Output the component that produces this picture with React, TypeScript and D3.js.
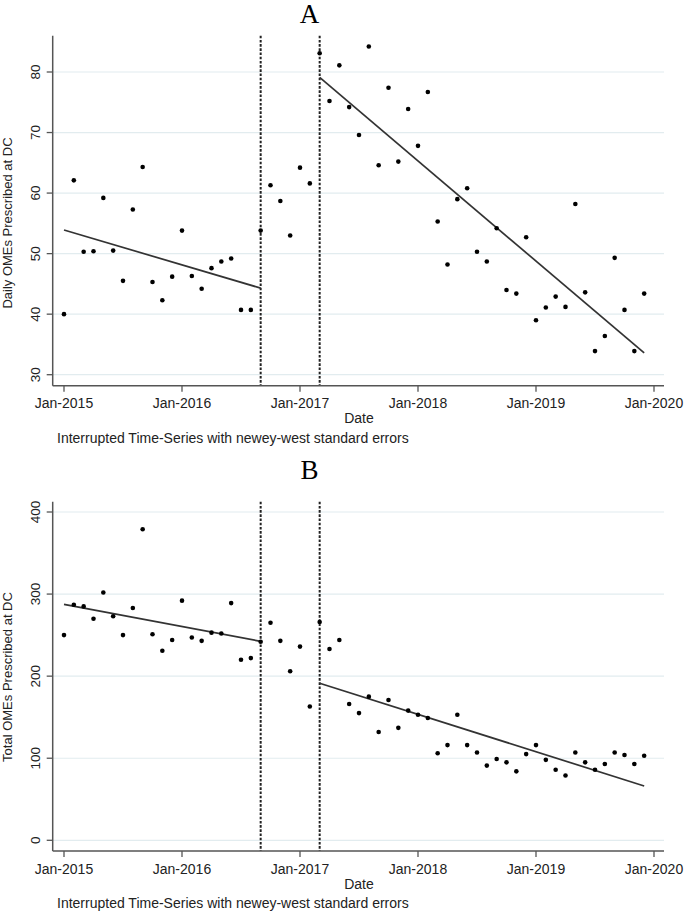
import React from "react";
import * as d3 from "d3";

// Month index 0 = Jan-2015
const monthsA = d3.range(0, 60);
const valuesA = [
  40.0, 62.1, 50.3, 50.4, 59.2, 50.5, 45.5, 57.3, 64.3, 45.3,
  42.3, 46.2, 53.8, 46.3, 44.2, 47.6, 48.7, 49.2, 40.7, 40.7,
  53.8, 61.3, 58.7, 53.0, 64.2, 61.6, 83.1, 75.2, 81.1, 74.2,
  69.6, 84.2, 64.6, 77.4, 65.2, 73.9, 67.8, 76.7, 55.3, 48.2,
  59.0, 60.8, 50.3, 48.7, 54.2, 44.0, 43.4, 52.7, 39.0, 41.1,
  42.9, 41.2, 58.2, 43.6, 33.9, 36.4, 49.3, 40.7, 33.9, 43.4,
];
const valuesB = [
  250, 287, 285, 270, 302, 273, 250, 283, 379, 251,
  231, 244, 292, 247, 243, 253, 252, 289, 220, 222,
  242, 265, 243, 206, 236, 163, 266, 233, 244, 166,
  155, 175, 132, 171, 137, 158, 153, 149, 106, 116,
  153, 116, 107, 91, 99, 95, 84, 105, 116, 98,
  86, 79, 107, 95, 86, 93, 107, 104, 93, 103,
];
// Fitted segments [start month, start value, end month, end value]
const fitPreA = [0, 53.9, 20, 44.3];
const fitPostA = [26, 79.1, 59, 33.6];
const fitPreB = [0, 287.5, 20, 242.4];
const fitPostB = [26, 191.3, 59, 66.2];
const interruptions = [20, 26];
const xTickMonths = [0, 12, 24, 36, 48, 60];
const xTickLabels = ["Jan-2015", "Jan-2016", "Jan-2017", "Jan-2018", "Jan-2019", "Jan-2020"];
const yTicksA = [30, 40, 50, 60, 70, 80];
const yTicksB = [0, 100, 200, 300, 400];

const SANS = "'Liberation Sans', Arial, Helvetica, sans-serif";
const SERIF = "'Liberation Serif', 'Times New Roman', serif";

const x = d3.scaleLinear().domain([0, 60]).range([64, 654]);
const AXIS_X = 52.7;
const AXIS_RIGHT = 664;

type PanelProps = {
  title: string;
  titleY: number;
  values: number[];
  yDomain: [number, number];
  yRange: [number, number];
  axisTop: number;
  axisBottom: number;
  yTicks: number[];
  yLabel: string;
  yLabelY: number;
  fits: number[][];
};

function Panel(p: PanelProps) {
  const y = d3.scaleLinear().domain(p.yDomain).range(p.yRange);
  const line = d3
    .line<[number, number]>()
    .x((d) => x(d[0]))
    .y((d) => y(d[1]));
  return (
    <g>
      <text x={309.5} y={p.titleY} textAnchor="middle" fontFamily={SERIF} fontSize={27} fill="#000">
        {p.title}
      </text>
      {p.yTicks.map((t) => (
        <line key={"g" + t} x1={AXIS_X} x2={AXIS_RIGHT} y1={y(t)} y2={y(t)} stroke="#e2ecef" strokeWidth={1.2} />
      ))}
      {interruptions.map((m) => (
        <line
          key={"d" + m}
          x1={x(m)}
          x2={x(m)}
          y1={p.axisTop}
          y2={p.axisBottom}
          stroke="#222"
          strokeWidth={2}
          strokeDasharray="2.6,1.6"
        />
      ))}
      {p.fits.map((f, i) => (
        <path
          key={"f" + i}
          d={line([
            [f[0], f[1]],
            [f[2], f[3]],
          ]) || ""}
          stroke="#333"
          strokeWidth={1.7}
          fill="none"
        />
      ))}
      {p.values.map((v, i) => (
        <circle key={"p" + i} cx={x(monthsA[i])} cy={y(v)} r={2.3} fill="#000" />
      ))}
      {/* axes */}
      <line x1={AXIS_X} x2={AXIS_X} y1={p.axisTop} y2={p.axisBottom} stroke="#555" strokeWidth={1.5} />
      <line x1={AXIS_X} x2={AXIS_RIGHT} y1={p.axisBottom} y2={p.axisBottom} stroke="#555" strokeWidth={1.5} />
      {p.yTicks.map((t) => (
        <g key={"yt" + t}>
          <line x1={AXIS_X - 6} x2={AXIS_X} y1={y(t)} y2={y(t)} stroke="#555" strokeWidth={1.3} />
          <text
            transform={`translate(39.5,${y(t)}) rotate(-90)`}
            textAnchor="middle"
            fontFamily={SANS}
            fontSize={13.5}
            fill="#222"
          >
            {t}
          </text>
        </g>
      ))}
      {xTickMonths.map((m, i) => (
        <g key={"xt" + m}>
          <line x1={x(m)} x2={x(m)} y1={p.axisBottom} y2={p.axisBottom + 6} stroke="#555" strokeWidth={1.3} />
          <text x={x(m)} y={p.axisBottom + 22.5} textAnchor="middle" fontFamily={SANS} fontSize={14} fill="#222">
            {xTickLabels[i]}
          </text>
        </g>
      ))}
      <text
        transform={`translate(11.5,${p.yLabelY}) rotate(-90)`}
        textAnchor="middle"
        fontFamily={SANS}
        fontSize={13}
        fill="#222"
      >
        {p.yLabel}
      </text>
      <text x={359} y={p.axisBottom + 37.5} textAnchor="middle" fontFamily={SANS} fontSize={14} fill="#222">
        Date
      </text>
      <text x={57} y={p.axisBottom + 57} fontFamily={SANS} fontSize={14} fill="#222">
        Interrupted Time-Series with newey-west standard errors
      </text>
    </g>
  );
}

export default function App() {
  return (
    <svg
      width={685}
      height={914}
      style={{ position: "absolute", left: 0, top: 0, background: "#fff" }}
    >
      <rect width={685} height={914} fill="#fff" />
      <Panel
        title="A"
        titleY={22.7}
        values={valuesA}
        yDomain={[30, 80]}
        yRange={[374.7, 72]}
        axisTop={35.7}
        axisBottom={385.7}
        yTicks={yTicksA}
        yLabel="Daily OMEs Prescribed at DC"
        yLabelY={223}
        fits={[fitPreA, fitPostA]}
      />
      <Panel
        title="B"
        titleY={479}
        values={valuesB}
        yDomain={[0, 400]}
        yRange={[840.3, 512]}
        axisTop={501.7}
        axisBottom={851}
        yTicks={yTicksB}
        yLabel="Total OMEs Prescribed at DC"
        yLabelY={677}
        fits={[fitPreB, fitPostB]}
      />
    </svg>
  );
}
